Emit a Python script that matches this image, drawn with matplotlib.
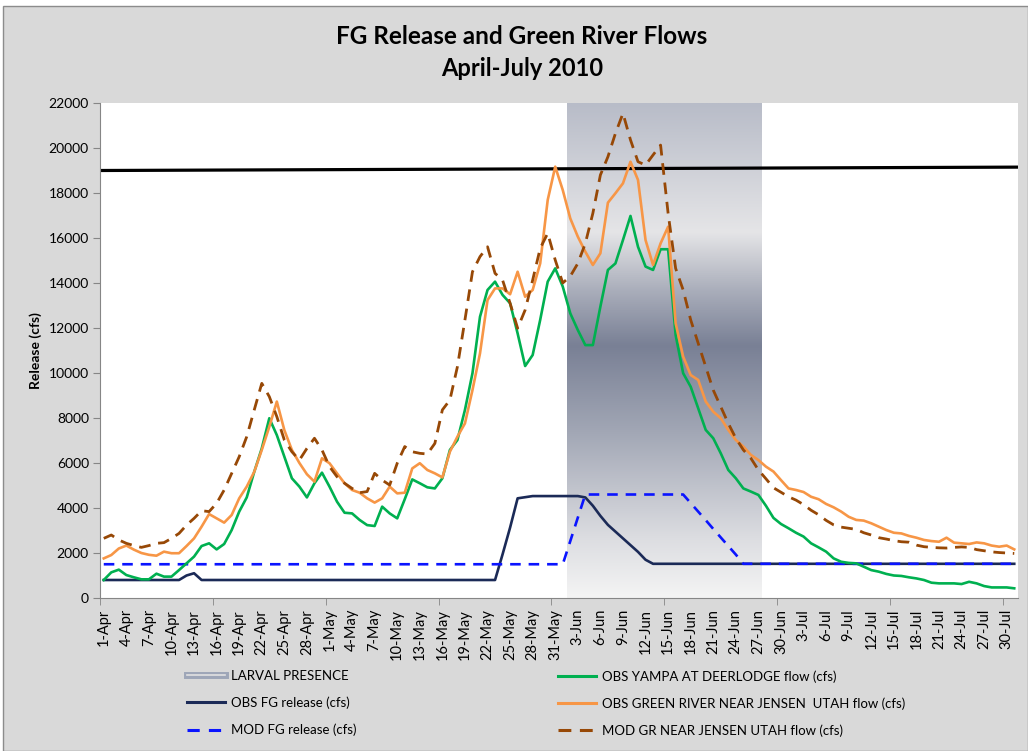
import numpy as np
import pandas as pd
import matplotlib
matplotlib.use('Agg')
import matplotlib.pyplot as plt
import matplotlib.patheffects as pe
from matplotlib.colors import LinearSegmentedColormap
from matplotlib.lines import Line2D
from matplotlib.patches import Rectangle

FONT = ['Lato', 'DejaVu Sans']
plt.rcParams['font.family'] = FONT

DAYS = pd.date_range('2010-04-01', '2010-07-31', freq='D')

# daily flows (cfs), 1-Apr .. 31-Jul
OBS_FG = [
    800, 800, 800, 800, 800, 800, 800, 800, 800, 800,
    800, 1000, 1100, 800, 800, 800, 800, 800, 800, 800,
    800, 800, 800, 800, 800, 800, 800, 800, 800, 800,
    800, 800, 800, 800, 800, 800, 800, 800, 800, 800,
    800, 800, 800, 800, 800, 800, 800, 800, 800, 800,
    800, 800, 800, 1940, 3130, 4430, 4480, 4530, 4530, 4530,
    4530, 4530, 4530, 4530, 4470, 4100, 3650, 3250, 2950, 2650,
    2350, 2050, 1700, 1520, 1520, 1520, 1520, 1520, 1520, 1520,
    1520, 1520, 1520, 1520, 1520, 1520, 1520, 1520, 1520, 1520,
    1520, 1520, 1520, 1520, 1520, 1520, 1520, 1520, 1520, 1520,
    1520, 1520, 1520, 1520, 1520, 1520, 1520, 1520, 1520, 1520,
    1520, 1520, 1520, 1520, 1520, 1520, 1520, 1520, 1520, 1520,
    1520, 1520,
]
MOD_FG = [
    1500, 1500, 1500, 1500, 1500, 1500, 1500, 1500, 1500, 1500,
    1500, 1500, 1500, 1500, 1500, 1500, 1500, 1500, 1500, 1500,
    1500, 1500, 1500, 1500, 1500, 1500, 1500, 1500, 1500, 1500,
    1500, 1500, 1500, 1500, 1500, 1500, 1500, 1500, 1500, 1500,
    1500, 1500, 1500, 1500, 1500, 1500, 1500, 1500, 1500, 1500,
    1500, 1500, 1500, 1500, 1500, 1500, 1500, 1500, 1500, 1500,
    1500, 1500, 2530, 3570, 4600, 4600, 4600, 4600, 4600, 4600,
    4600, 4600, 4600, 4600, 4600, 4600, 4600, 4600, 4220, 3840,
    3460, 3070, 2690, 2310, 1930, 1520, 1520, 1520, 1520, 1520,
    1520, 1520, 1520, 1520, 1520, 1520, 1520, 1520, 1520, 1520,
    1520, 1520, 1520, 1520, 1520, 1520, 1520, 1520, 1520, 1520,
    1520, 1520, 1520, 1520, 1520, 1520, 1520, 1520, 1520, 1520,
    1520, 1520,
]
YAMPA = [
    800, 1140, 1260, 1020, 920, 830, 830, 1080, 950, 950,
    1240, 1540, 1840, 2310, 2430, 2160, 2400, 3020, 3840, 4470,
    5610, 6650, 7990, 7240, 6280, 5320, 4950, 4470, 5100, 5570,
    4950, 4280, 3790, 3760, 3470, 3240, 3200, 4060, 3760, 3540,
    4390, 5270, 5100, 4920, 4870, 5320, 6580, 7020, 8360, 9990,
    12500, 13690, 14060, 13470, 13100, 11760, 10310, 10800, 12360, 14060,
    14650, 13840, 12650, 11910, 11240, 11240, 12950, 14580, 14870, 15910,
    16980, 15610, 14730, 14580, 15500, 15500, 11690, 9990, 9390, 8430,
    7470, 7100, 6430, 5690, 5320, 4870, 4730, 4580, 4100, 3560,
    3290, 3100, 2900, 2730, 2430, 2250, 2060, 1760, 1610, 1560,
    1540, 1390, 1240, 1170, 1070, 1000, 980, 920, 870, 800,
    680, 650, 650, 650, 620, 720, 650, 530, 470, 470,
    470, 430,
]
JENSEN = [
    1760, 1910, 2200, 2330, 2150, 2000, 1920, 1880, 2060, 1990,
    1990, 2310, 2650, 3170, 3730, 3540, 3350, 3690, 4430, 4950,
    5610, 6580, 7610, 8730, 7460, 6580, 6000, 5500, 5170, 6210,
    5990, 5540, 5100, 4800, 4680, 4430, 4240, 4430, 4950, 4650,
    4680, 5760, 5990, 5690, 5540, 5360, 6500, 7170, 7760, 9240,
    10870, 13240, 13760, 13760, 13500, 14500, 13390, 13690, 14870, 17690,
    19170, 18130, 16870, 16060, 15390, 14800, 15320, 17570, 17990, 18430,
    19390, 18580, 15910, 14800, 15760, 16500, 12210, 10730, 9910, 9690,
    8730, 8280, 7990, 7470, 7020, 6730, 6360, 6130, 5840, 5620,
    5240, 4870, 4800, 4710, 4500, 4390, 4180, 4030, 3840, 3610,
    3470, 3440, 3320, 3170, 3020, 2900, 2870, 2760, 2680, 2580,
    2530, 2500, 2680, 2460, 2430, 2400, 2470, 2430, 2330, 2280,
    2330, 2160,
]
MOD_GR = [
    2650, 2800, 2580, 2430, 2330, 2250, 2330, 2430, 2460, 2650,
    2870, 3240, 3540, 3880, 3840, 4210, 4800, 5540, 6280, 7170,
    8360, 9540, 8950, 8060, 7020, 6500, 6130, 6650, 7100, 6580,
    5840, 5390, 5100, 4870, 4680, 4730, 5540, 5240, 5020, 5990,
    6730, 6500, 6430, 6400, 6870, 8360, 8800, 10280, 12360, 14500,
    15170, 15610, 14430, 14130, 13100, 11990, 12800, 14130, 15540, 16210,
    15020, 14000, 14300, 14870, 15760, 17100, 18800, 19610, 20650, 21540,
    20360, 19390, 19240, 19690, 20130, 17100, 14650, 13690, 12360, 11320,
    10280, 9240, 8500, 7760, 7100, 6580, 6210, 5690, 5300, 4900,
    4700, 4500, 4350, 4150, 3900, 3700, 3450, 3250, 3150, 3100,
    3050, 2900, 2800, 2680, 2620, 2550, 2500, 2480, 2350, 2280,
    2250, 2230, 2220, 2250, 2270, 2250, 2150, 2100, 2050, 2020,
    2000, 1980,
]
THRESHOLD_CFS = [19000, 19150]       # drawn across the full period
LARVAL_PERIOD = [61.6, 87.5]          # day offsets from 1-Apr

assert all(len(s) == len(DAYS) for s in (OBS_FG, MOD_FG, YAMPA, JENSEN, MOD_GR))

W, H = 1028, 751
fig = plt.figure(figsize=(W / 100, H / 100), dpi=100)
fig.patch.set_facecolor('white')
fig.add_artist(Rectangle((3 / W, 0), 1 - 3 / W, 1 - 6 / H, transform=fig.transFigure,
                         facecolor='#d9d9d9', edgecolor='#8c8c8c', lw=1, zorder=-10))

ax = fig.add_axes([100 / W, 1 - 598 / H, 918 / W, 495 / H])
ax.set_facecolor('white')
x = np.arange(len(DAYS))

# larval presence band, vertical gradient
cmap = LinearSegmentedColormap.from_list('larval', [
    (0.0, '#f4f4f4'), (0.12, '#dcdde1'), (0.33, '#a3a8b6'), (0.51, '#798095'),
    (0.62, '#a9adba'), (0.74, '#e5e5e7'), (1.0, '#b8bcc8')])
grad = np.linspace(0, 1, 256).reshape(-1, 1)
ax.imshow(grad, cmap=cmap, origin='lower', aspect='auto', zorder=1,
          extent=[LARVAL_PERIOD[0], LARVAL_PERIOD[1], 0, 22000])

ax.set_xlim(-0.5, len(DAYS) - 0.5)
ax.set_ylim(0, 22000)

ax.plot(ax.get_xlim(), THRESHOLD_CFS, color='black', lw=2.3, zorder=2)
ax.plot(x, OBS_FG, color='#1b2a57', lw=1.9, zorder=3)
ax.plot(x, MOD_FG, color='#0a14ff', lw=1.9, ls=(0, (4, 3)), zorder=4)
ax.plot(x, YAMPA, color='#00b050', lw=1.9, zorder=5)
ax.plot(x, JENSEN, color='#f79646', lw=1.9, zorder=6)
ax.plot(x, MOD_GR, color='#974806', lw=2.0, ls=(0, (4.2, 2.8)), zorder=7)

# axes
for s in ('top', 'right'):
    ax.spines[s].set_visible(False)
for s in ('left', 'bottom'):
    ax.spines[s].set_color('#868686')
ax.set_yticks(np.arange(0, 22001, 2000))
ax.tick_params(axis='y', length=5, color='#868686', labelsize=10, pad=3)
lab_idx = np.arange(0, len(DAYS), 3)
ax.set_xticks(lab_idx)
ax.set_xticklabels([f"{DAYS[i].day}-{DAYS[i].strftime('%b')}" for i in lab_idx],
                   rotation=90, fontsize=10.5)
ax.tick_params(axis='x', which='major', length=0, pad=8)
ax.set_xticks(np.arange(-0.5, len(DAYS), 15), minor=True)
ax.tick_params(axis='x', which='minor', length=5, color='#868686')

ax.set_ylabel('Release (cfs)', fontsize=10, fontweight='bold')
ax.yaxis.set_label_coords(-58 / 918, 0.5)

fig.text(522 / W, 1 - 37 / H, 'FG Release and Green River Flows', ha='center', va='center',
         fontsize=17.5, fontweight='bold')
fig.text(522 / W, 1 - 68 / H, 'April-July 2010', ha='center', va='center',
         fontsize=17, fontweight='bold')

# legends
larval_h = Line2D([], [], color='#e2e2e2', lw=1.2,
                  path_effects=[pe.Stroke(linewidth=5, foreground='#9ea6b8'), pe.Normal()])
obs_fg_h = Line2D([], [], color='#1b2a57', lw=2.2)
mod_fg_h = Line2D([], [], color='#0a14ff', lw=2.2, ls=(0, (4, 3)))
yampa_h = Line2D([], [], color='#00b050', lw=2.2)
jensen_h = Line2D([], [], color='#f79646', lw=2.2)
mod_gr_h = Line2D([], [], color='#974806', lw=2.2, ls=(0, (4.2, 2.8)))

leg_kw = dict(loc='upper left', frameon=False, fontsize=9.5, handlelength=2.9,
              handletextpad=0.4, labelspacing=1.1, borderpad=0, borderaxespad=0)
fig.legend([larval_h, obs_fg_h, mod_fg_h],
           ['LARVAL PRESENCE', 'OBS FG release (cfs)', 'MOD FG release (cfs)'],
           bbox_to_anchor=(187 / W, 1 - 670 / H), **leg_kw)
fig.legend([yampa_h, jensen_h, mod_gr_h],
           ['OBS YAMPA AT DEERLODGE flow (cfs)', 'OBS GREEN RIVER NEAR JENSEN  UTAH flow (cfs)',
            'MOD GR NEAR JENSEN UTAH flow (cfs)'],
           bbox_to_anchor=(558 / W, 1 - 670 / H), **leg_kw)

fig.savefig('out.png', dpi=100, facecolor=fig.get_facecolor())
